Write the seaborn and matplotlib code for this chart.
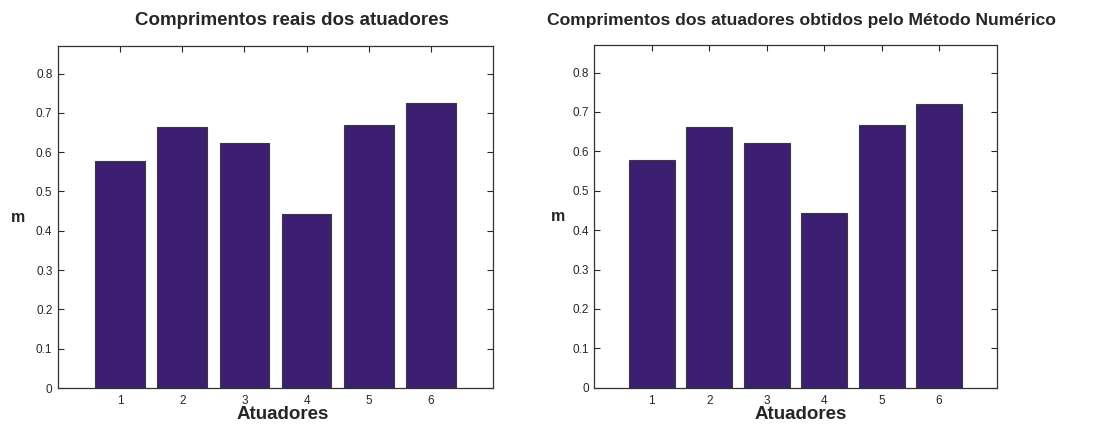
import matplotlib
matplotlib.use("Agg")
import matplotlib.pyplot as plt
import seaborn as sns
import pandas as pd

# Actuator lengths (m)
atuadores = [1, 2, 3, 4, 5, 6]
reais = [0.577, 0.663, 0.623, 0.443, 0.668, 0.725]
numerico = [0.577, 0.663, 0.622, 0.443, 0.668, 0.721]
yticks = [0, 0.1, 0.2, 0.3, 0.4, 0.5, 0.6, 0.7, 0.8]
titulos = ["Comprimentos reais dos atuadores",
           "Comprimentos dos atuadores obtidos pelo Método Numérico"]

sns.set_style("ticks")
plt.rcParams["font.family"] = ["Liberation Sans", "DejaVu Sans"]

bar_color = "#3c1f70"
edge_color = "#3a3a3a"
text_color = "#262626"

fig = plt.figure(figsize=(11.06, 4.24), dpi=100)
ax1 = fig.add_axes([0.0524, 0.0849, 0.3933, 0.8066])
ax2 = fig.add_axes([0.5373, 0.0856, 0.3638, 0.8083])

# (axes, values, title, title position, title size, xlabel x, xlabel baseline, ylabel x)
panels = [
    (ax1, reais, titulos[0], (0.538, 1.0614), 13.5, 0.516, -0.0906, -0.092),
    (ax2, numerico, titulos[1], (0.514, 1.058), 12.6, 0.513, -0.0913, -0.090),
]

for ax, valores, titulo, tpos, tsize, xl_x, xl_y, yl_x in panels:
    df = pd.DataFrame({"Atuador": atuadores, "Comprimento": valores})
    sns.barplot(data=df, x="Atuador", y="Comprimento", native_scale=True,
                width=0.8, color=bar_color, saturation=1, edgecolor=edge_color,
                linewidth=0.8, ax=ax, errorbar=None)
    ax.set_xlim(0, 7)
    ax.set_ylim(0, 0.87)
    ax.set_xticks(atuadores)
    ax.set_xticklabels([str(a) for a in atuadores])
    ax.set_yticks(yticks)
    ax.set_yticklabels(["0" if t == 0 else f"{t:.1f}" for t in yticks])
    ax.tick_params(direction="in", top=True, right=True, length=4,
                   width=0.8, labelsize=8.5, colors=text_color, pad=4)
    ax.tick_params(axis="x", pad=5)
    for sp in ax.spines.values():
        sp.set_visible(True)
        sp.set_color("#333333")
        sp.set_linewidth(0.9)

    ax.set_xlabel("Atuadores", fontsize=13.5, fontweight="bold",
                  color=text_color, va="baseline")
    ax.xaxis.set_label_coords(xl_x, xl_y)
    ax.set_ylabel("m", fontsize=11.5, fontweight="bold", color=text_color,
                  rotation=0, va="center", ha="center")
    ax.yaxis.set_label_coords(yl_x, 0.5)
    ax.text(tpos[0], tpos[1], titulo, transform=ax.transAxes, ha="center",
            va="baseline", fontsize=tsize, fontweight="bold", color=text_color)

fig.savefig("out.png", dpi=100)
